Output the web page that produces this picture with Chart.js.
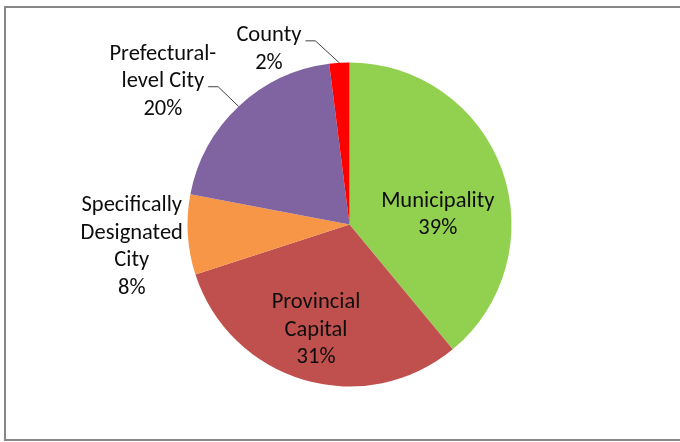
<!DOCTYPE html>
<html>
<head>
<meta charset="utf-8">
<script src="https://cdn.jsdelivr.net/npm/chart.js@4/dist/chart.umd.min.js"></script>
<style>
  html, body { margin: 0; padding: 0; background: #fff; }
  #wrap { position: relative; width: 680px; height: 442px; overflow: hidden; }
  #frame { position: absolute; left: 4px; top: 6px; width: 700px; height: 431px;
           border: 2px solid #878787; border-right: none; box-sizing: content-box; }
  #c { position: absolute; left: 0; top: 0; }
</style>
</head>
<body>
<div id="wrap">
  <div id="frame"></div>
  <canvas id="c" width="680" height="442"></canvas>
</div>
<script>
// ---- data ----
const categories = ['Municipality', 'Provincial Capital', 'Specifically Designated City', 'Prefectural-level City', 'County'];
const shares = [39, 31, 8, 20, 2];
const labelLines = [['Municipality'], ['Provincial', 'Capital'], ['Specifically', 'Designated', 'City'], ['Prefectural-', 'level City'], ['County']];
const sliceColors = ['#92D050', '#C0504D', '#F79646', '#8064A2', '#FF0000'];

// ---- label placement (angle offset from slice middle in degrees, radius factor, leader line index or -1) ----
const labelPlacement = [
  { dAngle: 12.2, radius: 0.55, leader: -1 },
  { dAngle: 1.7, radius: 0.672, leader: -1 },
  { dAngle: -1.8, radius: 1.35, leader: -1 },
  { dAngle: -9.0, radius: 1.458, leader: 1 },
  { dAngle: -20.9, radius: 1.2, leader: 0 }
];

const FONT = '22.5px Carlito, Calibri, Lato, sans-serif';
const LINE_H = 27.5;
const TEXT_SHIFT = 2;

const labelPlugin = {
  id: 'pieLabels',
  afterDatasetsDraw(chart) {
    const ctx = chart.ctx;
    const meta = chart.getDatasetMeta(0);
    ctx.save();
    ctx.font = FONT;
    ctx.fillStyle = '#0d0d0d';
    ctx.textAlign = 'center';
    ctx.textBaseline = 'middle';
    meta.data.forEach((arc, i) => {
      const p = labelPlacement[i];
      const mid = (arc.startAngle + arc.endAngle) / 2;
      const a = mid + p.dAngle * Math.PI / 180;
      const cx = arc.x + Math.cos(a) * arc.outerRadius * p.radius;
      const cy = arc.y + Math.sin(a) * arc.outerRadius * p.radius + TEXT_SHIFT;
      const lines = labelLines[i].concat([shares[i] + '%']);
      const top = cy - (lines.length - 1) * LINE_H / 2;
      lines.forEach((t, k) => ctx.fillText(t, cx, top + k * LINE_H));
      if (p.leader >= 0) {
        const t = lines[p.leader];
        const w = ctx.measureText(t).width;
        const ly = top + p.leader * LINE_H + 5;
        const x0 = cx + w / 2 + 4;
        const x1 = x0 + 10;
        const ex = arc.x + Math.cos(mid) * arc.outerRadius;
        const ey = arc.y + Math.sin(mid) * arc.outerRadius;
        ctx.beginPath();
        ctx.strokeStyle = '#404040';
        ctx.lineWidth = 1;
        ctx.moveTo(x0, ly);
        ctx.lineTo(x1, ly);
        ctx.lineTo(ex, ey);
        ctx.stroke();
      }
    });
    ctx.restore();
  }
};

new Chart(document.getElementById('c'), {
  type: 'pie',
  data: {
    labels: categories,
    datasets: [{
      data: shares,
      backgroundColor: sliceColors,
      borderWidth: 0
    }]
  },
  options: {
    responsive: false,
    animation: false,
    devicePixelRatio: 1,
    layout: { padding: { left: 19, right: 0, top: 62.5, bottom: 55.5 } },
    plugins: { legend: { display: false }, tooltip: { enabled: false } }
  },
  plugins: [labelPlugin]
});
</script>
</body>
</html>
